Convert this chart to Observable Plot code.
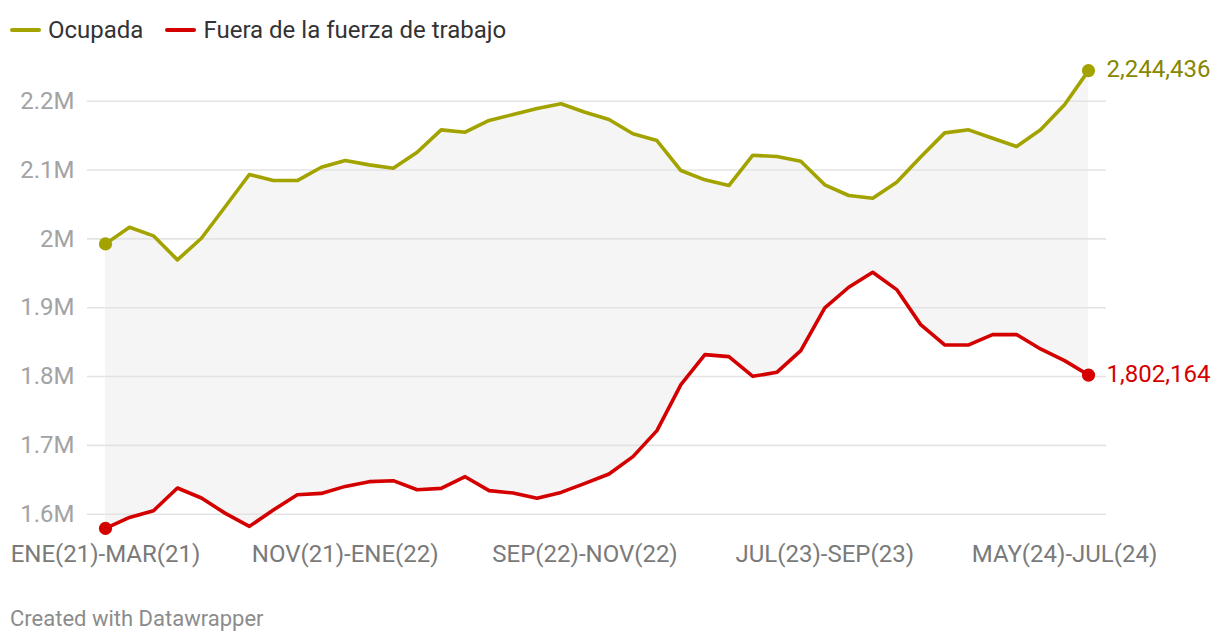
<!DOCTYPE html>
<html>
<head>
<meta charset="utf-8">
<script src="https://cdn.jsdelivr.net/npm/d3@7"></script>
<script src="https://cdn.jsdelivr.net/npm/@observablehq/plot@0.6"></script>
<style>
  html, body { margin: 0; padding: 0; background: #fff; font-family: Roboto, sans-serif; }
  #wrap { position: relative; width: 1220px; height: 644px; overflow: hidden; }
  #legend { position: absolute; left: 10px; top: 0; height: 60px; display: flex; align-items: center; font-size: 24px; color: #333; }
  .item { display: flex; align-items: center; margin-right: 22px; }
  .sw { width: 31px; height: 4px; border-radius: 2px; margin-right: 7px; }
  #chart { position: absolute; left: 0; top: 50px; }
  #caption { position: absolute; left: 10px; top: 606px; font-size: 22px; color: #8c8c8c; }
</style>
</head>
<body>
<div id="wrap">
  <div id="legend"></div>
  <div id="chart"></div>
  <div id="caption">Created with Datawrapper</div>
</div>
<script>
const periods = [
  "ENE(21)-MAR(21)","FEB(21)-ABR(21)","MAR(21)-MAY(21)","ABR(21)-JUN(21)","MAY(21)-JUL(21)","JUN(21)-AGO(21)",
  "JUL(21)-SEP(21)","AGO(21)-OCT(21)","SEP(21)-NOV(21)","OCT(21)-DIC(21)","NOV(21)-ENE(22)","DIC(21)-FEB(22)",
  "ENE(22)-MAR(22)","FEB(22)-ABR(22)","MAR(22)-MAY(22)","ABR(22)-JUN(22)","MAY(22)-JUL(22)","JUN(22)-AGO(22)",
  "JUL(22)-SEP(22)","AGO(22)-OCT(22)","SEP(22)-NOV(22)","OCT(22)-DIC(22)","NOV(22)-ENE(23)","DIC(22)-FEB(23)",
  "ENE(23)-MAR(23)","FEB(23)-ABR(23)","MAR(23)-MAY(23)","ABR(23)-JUN(23)","MAY(23)-JUL(23)","JUN(23)-AGO(23)",
  "JUL(23)-SEP(23)","AGO(23)-OCT(23)","SEP(23)-NOV(23)","OCT(23)-DIC(23)","NOV(23)-ENE(24)","DIC(23)-FEB(24)",
  "ENE(24)-MAR(24)","FEB(24)-ABR(24)","MAR(24)-MAY(24)","ABR(24)-JUN(24)","MAY(24)-JUL(24)","JUN(24)-AGO(24)"
];
const ocupada = [
  1992700, 2016900, 2004400, 1969500, 2000900, 2047000, 2093500, 2084700, 2084700, 2104000,
  2113800, 2107500, 2102600, 2125900, 2158400, 2155000, 2172000, 2180700, 2189400, 2196200,
  2184000, 2173400, 2152600, 2142900, 2099300, 2085800, 2077500, 2121500, 2119600, 2112800,
  2078500, 2063000, 2059000, 2082300, 2119000, 2154000, 2158400, 2146200, 2134200, 2158400,
  2194800, 2244436
];
const fuera = [
  1579400, 1595300, 1605100, 1638100, 1623500, 1601200, 1582300, 1606100, 1628300, 1630200,
  1640400, 1647300, 1648700, 1635600, 1637500, 1654500, 1634200, 1630800, 1623000, 1631700,
  1644800, 1658400, 1683600, 1721400, 1788200, 1831800, 1828900, 1800300, 1806100, 1837700,
  1899700, 1929700, 1951500, 1926300, 1875400, 1845900, 1845900, 1860900, 1860900, 1840100,
  1823100, 1802164
];
const seriesNames = ["Ocupada", "Fuera de la fuerza de trabajo"];
const seriesColors = ["#a3a300", "#d40000"];
const labelColors = ["#878700", "#d40000"];
const xTickLabels = ["ENE(21)-MAR(21)", "NOV(21)-ENE(22)", "SEP(22)-NOV(22)", "JUL(23)-SEP(23)", "MAY(24)-JUL(24)"];
const yTicks = [1600000, 1700000, 1800000, 1900000, 2000000, 2100000, 2200000];

// legend
const legend = document.getElementById("legend");
seriesNames.forEach((n, i) => {
  const it = document.createElement("div");
  it.className = "item";
  it.innerHTML = `<span class="sw" style="background:${seriesColors[i]}"></span><span>${n}</span>`;
  legend.appendChild(it);
});

const rows = periods.map((p, i) => ({ period: p, ocupada: ocupada[i], fuera: fuera[i] }));
const long = [];
seriesNames.forEach((s, k) => {
  const vals = k === 0 ? ocupada : fuera;
  periods.forEach((p, i) => long.push({ period: p, value: vals[i], series: s }));
});
const lastPts = seriesNames.map((s, k) => {
  const vals = k === 0 ? ocupada : fuera;
  return { period: periods[periods.length - 1], value: vals[vals.length - 1], series: s, k };
});

const chart = Plot.plot({
  width: 1220,
  height: 540,
  marginTop: 50.7,
  marginBottom: 76.3,
  marginLeft: 87,
  marginRight: 114,
  style: { fontFamily: "Roboto, sans-serif", background: "transparent", overflow: "visible" },
  x: { type: "point", domain: periods, padding: 0, insetLeft: 18, insetRight: 18 },
  y: { domain: [1600000, 2200000] },
  color: { domain: seriesNames, range: seriesColors },
  marks: [
    Plot.areaY(rows, { x: "period", y1: "fuera", y2: "ocupada", fill: "#f5f5f5" }),
    Plot.ruleY(yTicks, { stroke: "#e3e3e3", strokeWidth: 1.6 }),
    Plot.axisY({ ticks: yTicks, tickSize: 0, tickPadding: 13, fontSize: 24, fill: "#a3a3a3", tickFormat: d => (d / 1e6) + "M", label: null }),
    Plot.axisX({ ticks: xTickLabels, tickSize: 0, tickPadding: 30.5, fontSize: 24, fill: "#7a7a7a", label: null }),
    Plot.lineY(long, { x: "period", y: "value", stroke: "series", z: "series", strokeWidth: 3.6, strokeLinejoin: "round" }),
    Plot.dot(long.filter((d, i) => d.period === periods[0]), { x: "period", y: "value", fill: "series", r: 6.6 }),
    Plot.dot(lastPts, { x: "period", y: "value", fill: "series", r: 6.6 }),
    Plot.text(lastPts, { x: "period", y: "value", text: d => d3.format(",")(d.value), fill: d => labelColors[d.k], textAnchor: "start", dx: 18, dy: -1, fontSize: 24 })
  ]
});
document.getElementById("chart").appendChild(chart);
</script>
</body>
</html>
